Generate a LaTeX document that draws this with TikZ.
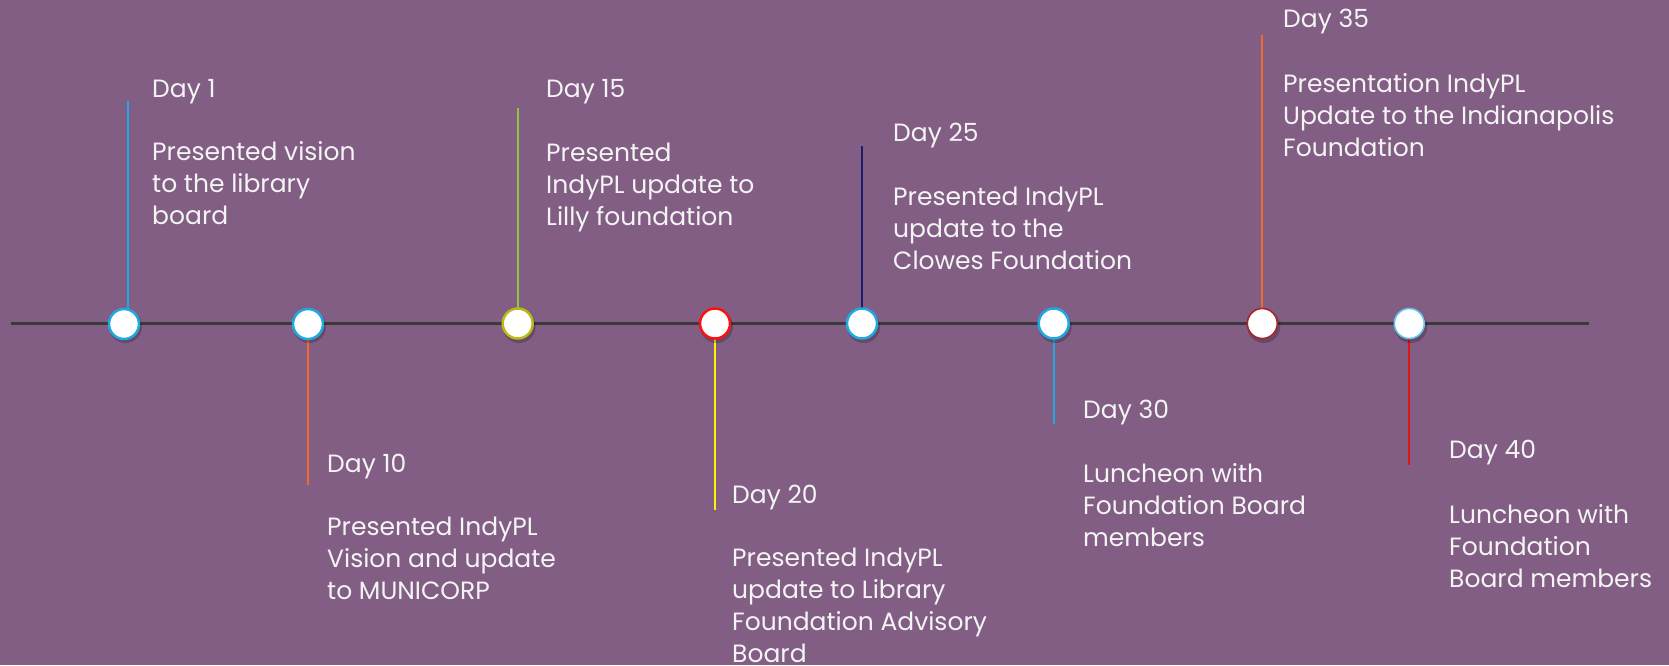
\documentclass[tikz,border=0pt]{standalone}
\usepackage{fontspec}
\setmainfont{Poppins}
\definecolor{bg}{HTML}{825E84}
\definecolor{txt}{HTML}{F4F4F4}
\definecolor{axis}{HTML}{3A3A3A}
\definecolor{cblue}{HTML}{1FA8E2}
\definecolor{corange}{HTML}{F06A2E}
\definecolor{cgreen}{HTML}{8FC640}
\definecolor{colive}{HTML}{B8BA16}
\definecolor{cyellow}{HTML}{FFF200}
\definecolor{cred}{HTML}{FF1010}
\definecolor{cnavy}{HTML}{1A1F6B}
\definecolor{cdred}{HTML}{A6262A}
\definecolor{cred2}{HTML}{E2151B}
\tikzset{
  dot/.style={circle, fill=white, line width=2.5pt, minimum size=30pt, inner sep=0pt},
  stem/.style={line width=2pt},
  lbl/.style={anchor=base west, inner sep=0pt, align=left, text=txt, font=\fontsize{25}{32}\selectfont},
  shade/.style={fill=black, opacity=0.22}
}
\begin{document}
\begin{tikzpicture}[x=1pt,y=-1pt]
\fill[bg] (0,0) rectangle (1669,665);
\useasboundingbox (0,0) rectangle (1669,665);
% axis
\coordinate (L) at (10.6,323.6);
\coordinate (R) at (1589,323.6);
\draw[axis, line width=2.6pt] (L) -- (R);
% stem ends
\coordinate (s1) at (127.7,101);
\coordinate (s2) at (308,485);
\coordinate (s3) at (517.7,107.5);
\coordinate (s4) at (715,510);
\coordinate (s5) at (862,146);
\coordinate (s6) at (1053.7,424);
\coordinate (s7) at (1262.3,35);
\coordinate (s8) at (1409.3,465);
\draw[stem, cblue] (s1) -- (s1 |- L);
\draw[stem, corange] (s2) -- (s2 |- L);
\draw[stem, cgreen] (s3) -- (s3 |- L);
\draw[stem, cyellow] (s4) -- (s4 |- L);
\draw[stem, cnavy] (s5) -- (s5 |- L);
\draw[stem, cblue] (s6) -- (s6 |- L);
\draw[stem, corange] (s7) -- (s7 |- L);
\draw[stem, cred2] (s8) -- (s8 |- L);
% shadows
\foreach \x in {124,308,517.7,715,862,1053.7,1262.3,1409.3}
  \fill[shade] (\x+1.5,326.5) circle (16.5);
% circles
\node[dot, draw=cblue] (c1) at (124,324) {};
\node[dot, draw=cblue] (c2) at (308,324) {};
\node[dot, draw=colive] (c3) at (517.7,323.5) {};
\node[dot, draw=cred] (c4) at (715,323.5) {};
\node[dot, draw=cblue] (c5) at (862,323.5) {};
\node[dot, draw=cblue] (c6) at (1053.7,323.5) {};
\node[dot, draw=cdred, line width=1.6pt] (c7) at (1262.3,323.5) {};
\node[dot, draw=cblue!70!white, line width=1.6pt] (c8) at (1409.3,323.5) {};
% labels (base anchor = last line baseline)
\node[lbl] (d1) at (152,97) {Day 1};
\node[lbl] (p1) at (152,224) {Presented vision\\to the library\\board};
\node[lbl] (d2) at (327,472) {Day 10};
\node[lbl] (p2) at (327,599) {Presented IndyPL\\Vision and update\\to MUNICORP};
\node[lbl] (d3) at (546,97) {Day 15};
\node[lbl] (p3) at (546,225) {Presented\\IndyPL update to\\Lilly foundation};
\node[lbl] (d4) at (732,503) {Day 20};
\node[lbl] (p4) at (732,662) {Presented IndyPL\\update to Library\\Foundation Advisory\\Board};
\node[lbl] (d5) at (893,141) {Day 25};
\node[lbl] (p5) at (893,269) {Presented IndyPL\\update to the\\Clowes Foundation};
\node[lbl] (d6) at (1083,418) {Day 30};
\node[lbl] (p6) at (1083,546) {Luncheon with\\Foundation Board\\members};
\node[lbl] (d7) at (1283,27) {Day 35};
\node[lbl] (p7) at (1283,156) {Presentation IndyPL\\Update to the Indianapolis\\Foundation};
\node[lbl] (d8) at (1449,458) {Day 40};
\node[lbl] (p8) at (1449,587) {Luncheon with\\Foundation\\Board members};
\end{tikzpicture}
\end{document}
